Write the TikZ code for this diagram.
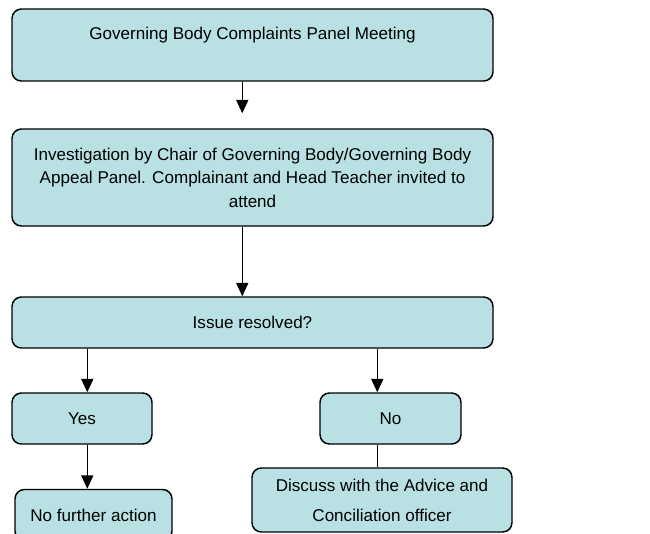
\documentclass[tikz,border=0pt]{standalone}
\usepackage{fontspec}
\setmainfont{Liberation Sans}
\usetikzlibrary{arrows.meta,calc}
\definecolor{boxfill}{RGB}{185,224,227}
\tikzset{
  flowbox/.style={draw=black, line width=1.1pt, fill=boxfill, rounded corners=7pt,
    align=center, inner sep=0pt, font=\fontsize{12.8}{17.6}\selectfont},
  arr/.style={line width=1.1pt, -{Triangle[length=10pt,width=9pt]}},
  plain/.style={line width=1.1pt}
}
\begin{document}
\begin{tikzpicture}[x=0.75pt,y=-0.75pt]
\useasboundingbox (0,0) rectangle (650,533);
\begin{scope}
\clip (0,0) rectangle (650,533);
\node[flowbox, minimum width=360.75pt, minimum height=54pt] (b1) at (252.5,45)
  {Governing Body Complaints Panel Meeting\\[-5pt]\strut};
\node[flowbox, minimum width=360.75pt, minimum height=72.75pt] (b2) at (252.5,177.5)
  {Investigation by Chair of Governing Body/Governing Body\\Appeal Panel. Complainant and Head Teacher invited to\\attend};
\node[flowbox, minimum width=360.75pt, minimum height=38.25pt] (b3) at (252.5,322.5)
  {Issue resolved?};
\node[flowbox, minimum width=105pt, minimum height=38.25pt] (yes) at (82,418.5) {Yes};
\node[flowbox, minimum width=105.75pt, minimum height=38.25pt] (no) at (390.5,418.5) {No};
\node[flowbox, minimum width=117.75pt, minimum height=38.25pt] (nfa) at (93.5,515) {No further action};
\node[flowbox, minimum width=195pt, minimum height=48pt] (disc) at (382,500)
  {Discuss with the Advice and\\[5pt]Conciliation officer};
\coordinate (a1end) at ($(b2.north west)+(231,-15)$);
\draw[arr] ($(b1.south west)+(231,0)$) -- (a1end);
\draw[arr] ($(b2.south west)+(231,0)$) -- ($(b3.north west)+(231,0)$);
\draw[arr] ($(b3.south west)+(76,0)$) -- ($(yes.north west)+(76,0)$);
\draw[arr] ($(b3.south west)+(366,0)$) -- ($(no.north west)+(58,0)$);
\draw[arr] ($(yes.south west)+(76,0)$) -- ($(nfa.north west)+(73,0)$);
\draw[plain] ($(no.south west)+(58,0)$) -- ($(disc.north west)+(126,0)$);
\end{scope}
\end{tikzpicture}
\end{document}
